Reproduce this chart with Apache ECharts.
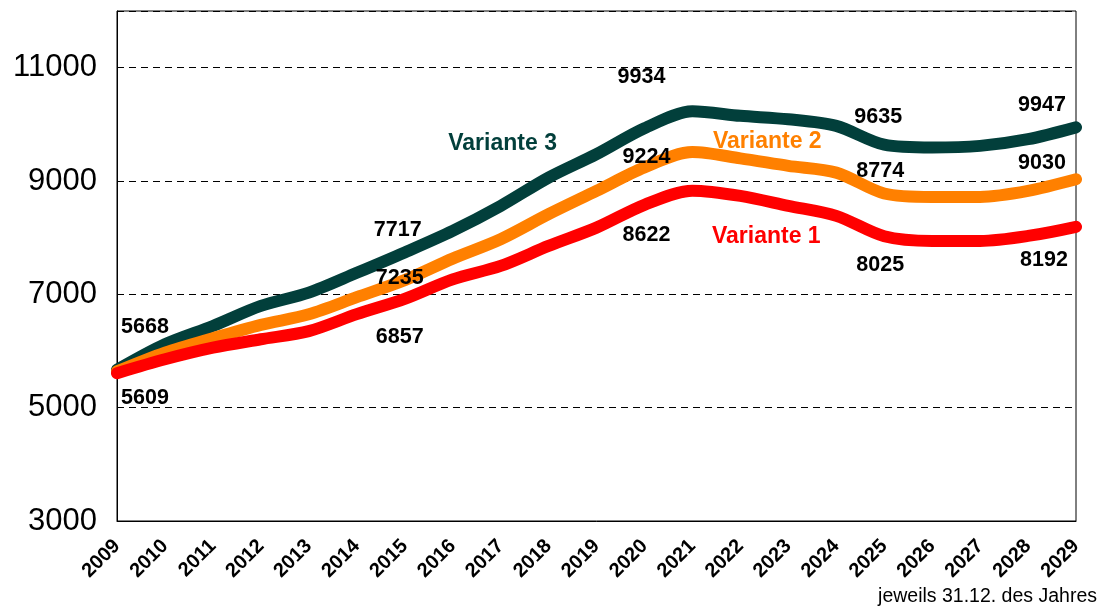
<!DOCTYPE html>
<html>
<head>
<meta charset="utf-8">
<script src="https://cdn.jsdelivr.net/npm/echarts@6/dist/echarts.min.js"></script>
<style>html,body{margin:0;padding:0;background:#fff;}#c{width:1101px;height:612px;}</style>
</head>
<body>
<div id="c"></div>
<script>
const years = ['2009','2010','2011','2012','2013','2014','2015','2016','2017','2018','2019','2020','2021','2022','2023','2024','2025','2026','2027','2028','2029'];
const variante3 = [5668,6119,6442,6795,7030,7380,7740,8120,8560,9060,9473,9930,10230,10150,10090,9973,9640,9590,9620,9738,9947];
const variante2 = [5640,5971,6225,6460,6649,6950,7250,7630,7972,8414,8825,9240,9510,9400,9267,9148,8780,8719,8719,8825,9030];
const variante1 = [5609,5854,6059,6207,6350,6650,6920,7265,7501,7854,8177,8580,8830,8737,8561,8385,8025,7943,7943,8031,8192];
const seriesNames = ['Variante 3','Variante 2','Variante 1'];
const seriesColors = ['#023F3B','#FF8000','#FF0000'];
// value labels written in the chart: [year index, text]
const labels3 = [[0,'5668'],[6,'7717'],[11,'9934'],[16,'9635'],[20,'9947']];
const labels2 = [[6,'7235'],[11,'9224'],[16,'8774'],[20,'9030']];
const labels1 = [[0,'5609'],[6,'6857'],[11,'8622'],[16,'8025'],[20,'8192']];
const nameIdx = [8,14,14];
const yTicks = [3000,5000,7000,9000,11000];

// label placement offsets in pixels (styling)
const off3 = {0:[28,-43],6:[-7,-22],11:[-3,-51],16:[-6,-28],20:[-34,-22],8:[2,-62]};
const off2 = {6:[-5,-2],11:[2,-10],16:[-4,-22],20:[-34,-16],14:[-21,-24]};
const off1 = {0:[28,25],6:[-5,38],11:[2,30],16:[-4,29],20:[-32,33],14:[-22,31]};

const FONT = '"Liberation Sans", Arial, sans-serif';

const allVals = [variante3, variante2, variante1];
const allLabs = [labels3, labels2, labels1];
const allOffs = [off3, off2, off1];

const series = allVals.map((vals, k) => ({
  name: seriesNames[k],
  type: 'line',
  data: vals,
  smooth: 0.3,
  symbol: 'none',
  lineStyle: {color: seriesColors[k], width: 12, cap: 'round', join: 'round'},
  emphasis: {disabled: true},
  silent: true,
  z: 2 + k
}));

// label points sit on the line values of the series they annotate
const labelData = [];
allVals.forEach((vals, k) => {
  allLabs[k].forEach(l => {
    const i = l[0];
    labelData.push({value: [i, vals[i]], label: {formatter: l[1], offset: allOffs[k][i], color: '#000', fontSize: 21.5}});
  });
  const n = nameIdx[k];
  labelData.push({value: [n, vals[n]], label: {formatter: seriesNames[k], offset: allOffs[k][n], color: seriesColors[k], fontSize: 23}});
});

series.push({
  type: 'scatter',
  data: labelData,
  symbolSize: 0,
  itemStyle: {color: 'rgba(0,0,0,0)', opacity: 1},
  label: {show: true, position: 'inside', align: 'center', verticalAlign: 'middle',
          fontFamily: FONT, fontWeight: 'bold', fontSize: 21.5, opacity: 1},
  emphasis: {disabled: true},
  silent: true,
  z: 10
});

const chart = echarts.init(document.getElementById('c'), null, {renderer: 'canvas'});
chart.setOption({
  animation: false,
  backgroundColor: '#fff',
  grid: {left: 117, right: 25, top: 11, bottom: 91, show: true, borderColor: '#000', borderWidth: 1, backgroundColor: 'transparent'},
  xAxis: {
    type: 'category',
    data: years,
    boundaryGap: false,
    axisLine: {lineStyle: {color: '#000', width: 1}},
    axisTick: {show: false},
    axisLabel: {rotate: 45, interval: 0, margin: 22, color: '#000', fontFamily: FONT, fontWeight: 'bold', fontSize: 20},
    splitLine: {show: false}
  },
  yAxis: {
    type: 'value',
    min: 3000,
    max: 12000,
    interval: 2000,
    axisLine: {show: true, lineStyle: {color: '#000', width: 1}},
    axisTick: {show: false},
    axisLabel: {margin: 20, color: '#000', fontFamily: FONT, fontSize: 31,
      formatter: v => (yTicks.indexOf(v) >= 0 ? String(v) : '')},
    splitLine: {show: true, lineStyle: {color: '#000', width: 1, type: [7, 5]}}
  },
  series: series,
  graphic: [{
    type: 'text', right: 4, top: 587,
    style: {text: 'jeweils 31.12. des Jahres', font: '19.5px ' + FONT, fill: '#000'}
  }]
});
</script>
</body>
</html>
